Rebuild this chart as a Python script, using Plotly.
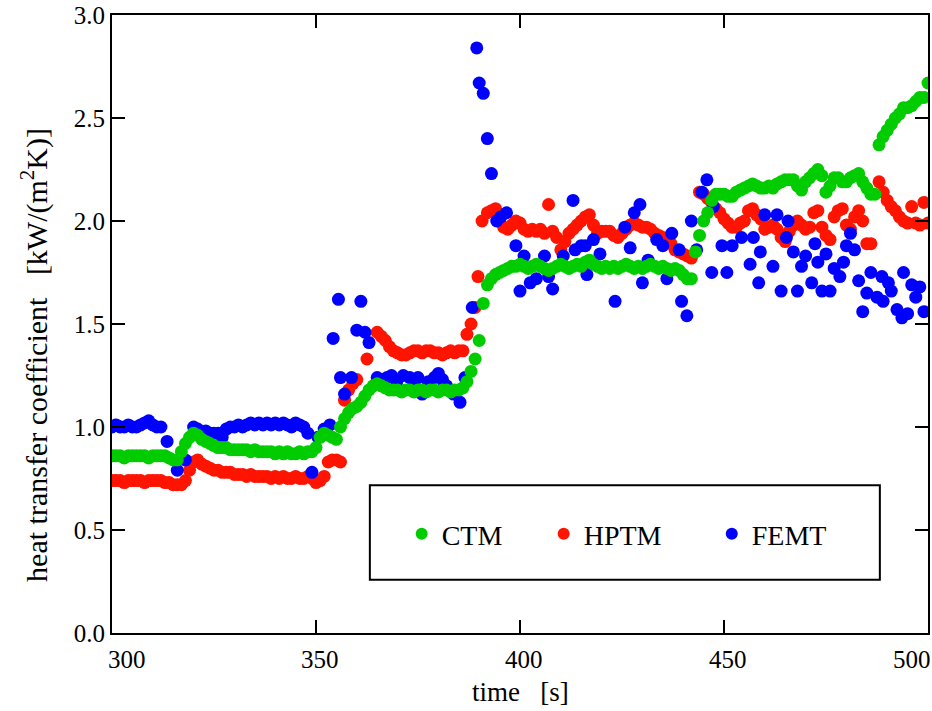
import plotly.graph_objects as go

# ---------------- data ----------------
ctm_t = list(range(300, 501))
ctm_v = [
    0.86, 0.86, 0.86, 0.85, 0.86, 0.86, 0.86, 0.86, 0.86, 0.85,
    0.86, 0.86, 0.86, 0.86, 0.85, 0.84, 0.84, 0.88, 0.92, 0.95,
    0.97, 0.96, 0.94, 0.93, 0.92, 0.91, 0.90, 0.90, 0.90, 0.89,
    0.89, 0.89, 0.89, 0.89, 0.88, 0.89, 0.88, 0.88, 0.88, 0.88,
    0.87, 0.88, 0.87, 0.88, 0.87, 0.87, 0.88, 0.87, 0.88, 0.88,
    0.90, 0.95, 0.97, 0.96, 0.95, 0.94, 1.00, 1.04, 1.07, 1.09,
    1.10, 1.12, 1.15, 1.18, 1.20, 1.21, 1.20, 1.19, 1.18, 1.18,
    1.18, 1.17, 1.18, 1.18, 1.17, 1.18, 1.18, 1.17, 1.18, 1.18,
    1.17, 1.18, 1.18, 1.17, 1.18, 1.18, 1.19, 1.22, 1.27, 1.33,
    1.42, 1.60, 1.69, 1.72, 1.74, 1.75, 1.76, 1.77, 1.78, 1.78,
    1.79, 1.78, 1.77, 1.78, 1.79, 1.78, 1.77, 1.76, 1.77, 1.78,
    1.79, 1.78, 1.77, 1.78, 1.79, 1.78, 1.80, 1.81, 1.79, 1.78,
    1.77, 1.78, 1.77, 1.78, 1.77, 1.78, 1.79, 1.78, 1.77, 1.78,
    1.77, 1.78, 1.79, 1.78, 1.77, 1.78, 1.77, 1.76, 1.77, 1.76,
    1.74, 1.72, 1.72, 1.85, 1.93, 2.00, 2.04, 2.10, 2.13, 2.13,
    2.13, 2.12, 2.12, 2.14, 2.15, 2.16, 2.17, 2.18, 2.17, 2.16,
    2.16, 2.17, 2.16, 2.18, 2.19, 2.20, 2.20, 2.20, 2.17, 2.15,
    2.19, 2.21, 2.23, 2.25, 2.22, 2.14, 2.17, 2.21, 2.21, 2.19,
    2.19, 2.21, 2.22, 2.23, 2.19, 2.16, 2.13, 2.13, 2.37, 2.41,
    2.44, 2.47, 2.50, 2.52, 2.55, 2.55, 2.56, 2.58, 2.60, 2.60,
    2.67,
]

hptm_t = (list(range(300, 357))
          + [357, 358, 359, 360, 362.5, 365, 366, 367, 368, 369]
          + list(range(370, 387))
          + [387, 388, 389, 389.7, 390.7]
          + list(range(392, 443))
          + list(range(444, 487))
          + list(range(488, 501)))
hptm_v = [
    0.74, 0.74, 0.74, 0.73, 0.74, 0.74, 0.74, 0.74, 0.73, 0.74,
    0.74, 0.74, 0.74, 0.73, 0.73, 0.72, 0.72, 0.72, 0.74, 0.79,
    0.83, 0.84, 0.82, 0.81, 0.80, 0.79, 0.79, 0.78, 0.78, 0.78,
    0.77, 0.77, 0.77, 0.76, 0.77, 0.76, 0.76, 0.76, 0.76, 0.75,
    0.76, 0.75, 0.76, 0.75, 0.75, 0.76, 0.75, 0.75, 0.76, 0.75,
    0.73, 0.74, 0.76, 0.83, 0.84, 0.84, 0.83,
    1.13, 1.18, 1.21, 1.23, 1.33, 1.46, 1.44, 1.42, 1.39, 1.37,
    1.36, 1.35, 1.35, 1.36, 1.37, 1.37, 1.36, 1.37, 1.37, 1.36,
    1.36, 1.35, 1.36, 1.37, 1.36, 1.37, 1.37,
    1.45, 1.50, 1.58, 1.73, 2.00,
    2.04, 2.05, 2.06, 2.00, 1.97, 1.96, 1.98, 2.00,
    1.99, 1.96, 1.95, 1.96, 1.95, 1.96, 1.94, 2.08, 1.95, 1.92,
    1.86, 1.90, 1.94, 1.96, 1.98, 2.00, 2.02, 2.03, 1.98, 1.94,
    1.95, 1.95, 1.95, 1.93, 1.92, 1.94, 1.96, 1.98, 1.99, 1.98,
    1.97, 1.97, 1.96, 1.94, 1.93, 1.92, 1.91, 1.89, 1.86, 1.85,
    1.84, 1.83, 1.82,
    2.14, 2.13, 2.11, 2.09, 2.06, 2.04,
    2.01, 1.99, 1.97, 1.97, 1.99, 2.00, 2.05, 2.06, 2.03, 2.01,
    1.96, 1.97, 1.98, 1.96, 1.92, 1.90, 1.95, 1.98, 2.00, 1.98,
    1.96, 1.97, 2.04, 2.05, 1.97, 1.93, 1.91, 2.02, 2.05, 2.06,
    1.98, 1.96, 2.02, 2.05, 2.00, 1.89, 1.89,
    2.19, 2.14, 2.10, 2.07, 2.05, 2.02, 2.00, 1.99, 2.07, 1.99, 1.98, 2.09, 1.99,
]

femt_t = [
    300, 301, 302, 303, 304, 305, 306, 307, 308, 309, 310, 311, 312,
    313.5, 316, 318, 320, 321, 322, 323, 324, 325, 326, 327, 328, 329,
    330, 331, 332, 333, 334, 335, 336, 337, 338, 339, 340, 341, 342, 343, 344, 345, 346, 347,
    348, 349, 350.5, 352, 353.4, 354.2, 355.5, 356, 357, 358.7, 360, 361, 362, 363,
    365, 366, 367.4, 368.5, 369.8, 371.4, 373, 374, 375, 376, 377.5, 379, 380, 381, 382,
    383.7, 385.3, 386.5, 388.3, 389.4, 390, 391, 392, 393, 394.3, 395.3, 396.7,
    399, 400, 401, 402.5, 404, 406, 407, 408, 410.6, 413, 413.5, 415, 416, 416.4,
    418, 419.6, 423.3, 425.7, 427, 428, 429.4, 430, 431.4, 433.5, 435, 436, 437.2,
    439, 439.6, 440.9, 442, 443.3, 444.6, 445.8, 447, 447.4, 449.5, 450.7, 452,
    454.3, 456.4, 457.2, 458.5, 458.9, 460, 462, 463, 464, 465.3, 465.7, 467, 468,
    469, 470, 471.5, 472.3, 473, 474, 475, 476, 477, 478.4, 479.3, 480, 481, 482,
    483, 484, 485, 486, 487.5, 488.7, 489, 490.3, 491, 492.4, 493.6, 494, 495, 496,
    497, 498, 499,
]
femt_v = [
    1.00, 1.01, 1.00, 1.00, 1.01, 1.00, 1.00, 1.01, 1.02, 1.03, 1.01, 1.00, 1.00,
    0.93, 0.79, 0.84, 1.00, 0.99, 0.97, 0.98, 0.97, 0.97, 0.97, 0.95, 0.99, 1.00,
    1.00, 1.01, 1.00, 1.01, 1.02, 1.01, 1.02, 1.01, 1.02, 1.01, 1.02, 1.01, 1.02, 1.01, 1.00, 1.02, 1.01, 1.00,
    0.97, 0.78, 0.95, 0.99, 1.01, 1.43, 1.62, 1.24, 1.16, 1.24, 1.47, 1.61, 1.46, 1.41,
    1.24, 1.23, 1.24, 1.25, 1.22, 1.25, 1.24, 1.23, 1.24, 1.16, 1.22, 1.24, 1.26, 1.23, 1.20,
    1.16, 1.12, 1.24, 1.58, 2.84, 2.67, 2.62, 2.40, 2.23, 2.00, 2.02, 2.04,
    1.88, 1.66, 1.83, 1.70, 1.72, 1.83, 1.73, 1.67, 1.83, 2.10, 1.86, 1.88, 1.88, 1.74,
    1.91, 1.84, 1.61, 1.97, 1.87, 2.04, 2.08, 1.70, 1.81, 1.91, 1.88, 1.72, 1.94,
    1.86, 1.61, 1.54, 2.00, 1.86, 2.14, 2.20, 1.75, 2.07, 1.88, 1.75, 1.88,
    1.92, 1.79, 1.92, 1.70, 1.85, 2.03, 1.78, 2.03, 1.66, 1.92, 2.00, 1.85, 1.66,
    1.78, 1.83, 1.70, 1.89, 1.80, 1.66, 1.84, 1.66, 1.77, 1.73, 1.80, 1.88, 1.94, 1.86,
    1.71, 1.56, 1.65, 1.75, 1.63, 1.73, 1.61, 1.70, 1.66, 1.57, 1.53, 1.75, 1.55, 1.69,
    1.63, 1.68, 1.56,
]

assert len(ctm_t) == len(ctm_v)
assert len(hptm_t) == len(hptm_v), (len(hptm_t), len(hptm_v))
assert len(femt_t) == len(femt_v), (len(femt_t), len(femt_v))

x_ticks = [300, 350, 400, 450, 500]
y_ticks = [0.0, 0.5, 1.0, 1.5, 2.0, 2.5, 3.0]

GREEN = "#00cc00"
RED = "#ff1400"
BLUE = "#0000ff"
FONT = "Liberation Serif, Times New Roman, serif"
TICK_SIZE = 25

fig = go.Figure()
MS = 13
# draw order: red below, blue, green on top; each series gets its own legend slot
fig.add_trace(go.Scatter(x=hptm_t, y=hptm_v, mode="markers", name="HPTM", legend="legend2",
                         showlegend=True, marker=dict(color=RED, size=MS)))
fig.add_trace(go.Scatter(x=femt_t, y=femt_v, mode="markers", name="FEMT", legend="legend3",
                         showlegend=True, marker=dict(color=BLUE, size=MS)))
fig.add_trace(go.Scatter(x=ctm_t, y=ctm_v, mode="markers", name="CTM", legend="legend",
                         showlegend=True, marker=dict(color=GREEN, size=MS)))

axis_common = dict(
    showline=True, linecolor="black", linewidth=2, mirror="ticks",
    ticks="inside", ticklen=13, tickwidth=2, tickcolor="black",
    showgrid=False, zeroline=False,
    tickfont=dict(family=FONT, size=TICK_SIZE, color="black"),
)

fig.update_xaxes(range=[300, 500], tickvals=x_ticks, showticklabels=False, **axis_common)
fig.update_yaxes(range=[0, 3.0], tickvals=y_ticks, ticktext=[f"{v:.1f}" for v in y_ticks],
                 **axis_common)

annotations = []
# x tick labels (edge labels nudged inward as in the original)
for v in x_ticks:
    shift = 15 if v == x_ticks[0] else (-16 if v == x_ticks[-1] else 4)
    annotations.append(dict(x=v, xref="x", y=0, yref="paper", yanchor="top",
                            yshift=-11, xshift=shift, showarrow=False, text=str(v),
                            font=dict(family=FONT, size=TICK_SIZE, color="black")))
# axis titles
annotations.append(dict(text="time   [s]", x=0.5, xref="paper", y=0, yref="paper",
                        yanchor="top", yshift=-42, showarrow=False,
                        font=dict(family=FONT, size=27, color="black")))
annotations.append(dict(text="heat transfer coefficient   [kW/(m<sup>2</sup>K)]",
                        textangle=-90, x=0, xref="paper", xanchor="center", xshift=-77,
                        y=0.45, yref="paper", yanchor="middle", showarrow=False,
                        font=dict(family=FONT, size=30, color="black")))

leg_common = dict(orientation="h", y=0.16, xanchor="left", yanchor="middle",
                  bgcolor="rgba(0,0,0,0)", borderwidth=0,
                  font=dict(family=FONT, size=28, color="black"), itemsizing="constant")

fig.update_layout(
    width=932, height=711,
    showlegend=True,
    margin=dict(l=112, r=4, t=15, b=78, autoexpand=False),
    plot_bgcolor="white", paper_bgcolor="white",
    font=dict(family=FONT, color="black"),
    annotations=annotations,
    shapes=[dict(type="rect", xref="paper", yref="paper",
                 x0=0.316, x1=0.941, y0=0.086, y1=0.239,
                 line=dict(color="black", width=2), fillcolor="white", layer="below")],
    legend=dict(x=0.355, **leg_common),
    legend2=dict(x=0.529, **leg_common),
    legend3=dict(x=0.735, **leg_common),
)

fig.write_html("out.html")
